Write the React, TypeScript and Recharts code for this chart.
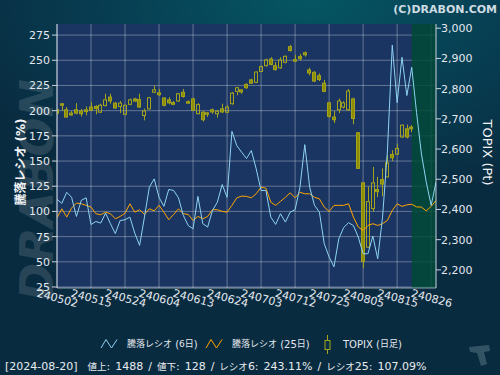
import React from 'react';
import { ComposedChart, Line, Bar, XAxis, YAxis, CartesianGrid, ReferenceArea, Legend } from 'recharts';

const tickLabels = ['240502', '240515', '240524', '240604', '240613', '240624', '240703', '240712', '240725', '240805', '240815', '240826'];
const tickIndex = [0, 7, 14, 21, 28, 35, 42, 49, 56, 63, 70, 77];

const ratio6 = [112, 108, 119, 114, 95, 111, 113.5, 87, 90, 88.4, 98.3, 87.8, 78, 91, 91.7, 94.4, 78.5, 66.3, 94.4, 124, 132.3, 114, 105, 121.8, 120.8, 113.5, 96, 86, 82.8, 114.9, 87.8, 84.5, 101, 109.2, 126.7, 114, 179.5, 165.3, 158.7, 152.5, 160.4, 142.2, 120.8, 120.8, 94.4, 87.1, 97.7, 89.4, 99.3, 101.7, 124, 166.3, 124, 106, 99.3, 68, 54.8, 45, 72.9, 84, 88.8, 86, 74.6, 58, 58, 75.6, 53, 94.4, 160, 265, 208, 253, 215, 243.11, 198, 157, 129, 106, 129];
const ratio25 = [93.7, 102.6, 94.4, 103.3, 108.3, 107.6, 106, 104.3, 97.7, 96.7, 99.3, 97.7, 92.7, 95, 98.3, 107.6, 99.3, 101.7, 97, 102.6, 100.6, 106, 99.3, 91.7, 97, 102.6, 97.7, 97, 91, 95, 92.7, 95, 101.7, 101.7, 100, 99.3, 106, 113.5, 115.2, 114.9, 113.5, 117.5, 124, 123, 109.2, 106, 110, 114, 118.5, 113.5, 119, 117.5, 117.5, 114, 112.5, 104.3, 100, 106, 106, 106, 107.6, 94.4, 84.5, 81.2, 86.1, 87.8, 86.1, 87.8, 91.1, 101, 107.5, 105, 106.5, 107.09, 104.5, 104.3, 100.5, 105, 110.8];

const topixOpen = [2730, 2750, 2730, 2719, 2730, 2726, 2730, 2739, 2741, 2722, 2744, 2772, 2752, 2741, 2715, 2748, 2766, 2764, 2711, 2733, 2788, 2786, 2769, 2763, 2754, 2759, 2788, 2757, 2766, 2717, 2722, 2720, 2730, 2717, 2733, 2722, 2750, 2791, 2796, 2814, 2829, 2821, 2857, 2876, 2898, 2876, 2869, 2887, 2939, 2896, 2906, 2919, 2862, 2854, 2843, 2818, 2753, 2706, 2730, 2739, 2730, 2766, 2654, 2488, 2275, 2403, 2466, 2499, 2508, 2582, 2583, 2640, 2667, 2673];
const topixHigh = [2734, 2752, 2739, 2726, 2752, 2733, 2741, 2755, 2745, 2750, 2783, 2783, 2756, 2759, 2747, 2767, 2770, 2783, 2734, 2772, 2810, 2799, 2772, 2772, 2759, 2785, 2799, 2761, 2770, 2752, 2726, 2722, 2734, 2730, 2750, 2745, 2789, 2805, 2798, 2818, 2833, 2857, 2876, 2899, 2904, 2888, 2904, 2910, 2945, 2911, 2915, 2923, 2869, 2858, 2851, 2829, 2756, 2726, 2767, 2758, 2799, 2770, 2656, 2490, 2476, 2541, 2508, 2536, 2580, 2596, 2618, 2681, 2681, 2679];
const topixLow = [2715, 2726, 2704, 2710, 2715, 2708, 2712, 2726, 2715, 2719, 2741, 2750, 2734, 2719, 2712, 2745, 2756, 2737, 2695, 2731, 2785, 2775, 2741, 2748, 2745, 2756, 2770, 2750, 2726, 2715, 2691, 2706, 2717, 2704, 2719, 2719, 2747, 2778, 2783, 2799, 2816, 2819, 2855, 2873, 2877, 2860, 2866, 2884, 2923, 2888, 2893, 2906, 2844, 2822, 2825, 2788, 2704, 2686, 2719, 2734, 2726, 2682, 2534, 2206, 2272, 2393, 2441, 2444, 2506, 2560, 2580, 2638, 2635, 2656];
const topixClose = [2719, 2745, 2706, 2713, 2719, 2717, 2724, 2728, 2734, 2745, 2763, 2759, 2736, 2752, 2745, 2763, 2759, 2739, 2726, 2770, 2796, 2780, 2745, 2753, 2748, 2783, 2774, 2752, 2728, 2747, 2697, 2715, 2723, 2725, 2723, 2739, 2785, 2803, 2789, 2803, 2818, 2855, 2873, 2895, 2880, 2863, 2895, 2907, 2926, 2891, 2899, 2912, 2852, 2825, 2830, 2791, 2708, 2697, 2759, 2753, 2792, 2701, 2536, 2228, 2426, 2488, 2459, 2484, 2554, 2571, 2602, 2679, 2640, 2667];

const leftTicks = [25, 50, 75, 100, 125, 150, 175, 200, 225, 250, 275];
const rightTicks = [2200, 2300, 2400, 2500, 2600, 2700, 2800, 2900, 3000];
const highlightStart = 73;
const lastIndex = ratio6.length - 1;

const data = ratio6.map((v, i) => {
  const has = i < topixOpen.length;
  return {
    i,
    r6: v,
    r25: ratio25[i],
    open: has ? topixOpen[i] : null,
    high: has ? topixHigh[i] : null,
    low: has ? topixLow[i] : null,
    close: has ? topixClose[i] : null,
    range: has ? [topixLow[i], topixHigh[i]] : null,
  };
});

const FONT = "'DejaVu Sans', 'Noto Sans CJK JP', sans-serif";
const CANDLE = '#a3a31c';
const CANDLE_FILL = '#8e8e06';
const BLUE = '#8dd3f2';
const ORANGE = '#ffa500';
const TICK = '#e4e8ee';

const Candle = (props: any) => {
  const { x, y, width, height, payload } = props;
  if (!payload || payload.open == null || x == null) return null;
  const { open, close, high, low } = payload;
  const top = Math.min(y, y + height);
  const h = Math.abs(height);
  const span = high - low;
  const toY = (v: number) => (span === 0 ? top : top + ((high - v) / span) * h);
  const cx = Math.round(x + width / 2) + 0.5;
  const bTop = toY(Math.max(open, close));
  const bBot = toY(Math.min(open, close));
  const up = close >= open;
  return (
    <g>
      <line x1={cx} x2={cx} y1={top} y2={bTop} stroke={CANDLE} strokeWidth={1} />
      <line x1={cx} x2={cx} y1={bBot} y2={top + h} stroke={CANDLE} strokeWidth={1} />
      <rect x={cx - 2} y={bTop} width={3} height={Math.max(1, bBot - bTop)} fill={up ? 'none' : CANDLE_FILL} stroke={CANDLE} strokeWidth={1} />
    </g>
  );
};

const XTick = (props: any) => {
  const { x, y, payload } = props;
  const idx = tickIndex.indexOf(payload.value);
  const label = idx >= 0 ? tickLabels[idx] : '';
  const cx = x + 0.5;
  const cy = y + 10.5;
  return (
    <text x={cx} y={cy} textAnchor="middle" dominantBaseline="central" fill={TICK} fontSize={11} fontFamily={FONT} transform={`rotate(15 ${cx} ${cy})`}>
      {label}
    </text>
  );
};

const LeftTitle = (props: any) => {
  const vb = props.viewBox || { x: 0, y: 24, width: 57, height: 264 };
  const x = vb.x + 20.5;
  const y = vb.y + vb.height / 2 + 6;
  return (
    <text x={x} y={y} transform={`rotate(-90 ${x} ${y})`} textAnchor="middle" dominantBaseline="central" fill="#f2f4f6" fontSize={12} fontWeight="bold" fontFamily={FONT}>
      騰落レシオ (%)
    </text>
  );
};

const RightTitle = (props: any) => {
  const vb = props.viewBox || { x: 436, y: 24, width: 64, height: 264 };
  const x = vb.x + 51;
  const y = vb.y + vb.height / 2 - 3.5;
  return (
    <text x={x} y={y} transform={`rotate(90 ${x} ${y})`} textAnchor="middle" dominantBaseline="central" fill="#f2f4f6" fontSize={13} fontFamily={FONT}>
      TOPIX (Pt)
    </text>
  );
};

const cjk = (s: string) => <tspan fontSize={9}>{s}</tspan>;

const LegendContent = () => (
  <svg width={500} height={30} style={{ display: 'block' }}>
    <polyline points="101,18 106,9.5 111.5,18 117,9.5" fill="none" stroke={BLUE} strokeWidth={1} />
    <text x={127} y={14} dominantBaseline="central" fill={TICK} fontSize={10} fontFamily={FONT}>
      {cjk('騰落レシオ')} ({cjk('6日')})
    </text>
    <polyline points="206,18 211,9.5 216.5,18 222,9.5" fill="none" stroke={ORANGE} strokeWidth={1} />
    <text x={232} y={14} dominantBaseline="central" fill={TICK} fontSize={10} fontFamily={FONT}>
      {cjk('騰落レシオ')} (25{cjk('日')})
    </text>
    <line x1={327.5} x2={327.5} y1={5} y2={24} stroke={CANDLE} strokeWidth={1} />
    <rect x={325} y={10.5} width={5} height={9} fill="#0a3045" stroke={CANDLE} strokeWidth={1} />
    <text x={343} y={14} dominantBaseline="central" fill={TICK} fontSize={10} fontFamily={FONT}>
      TOPIX ({cjk('日足')})
    </text>
  </svg>
);

export default function App() {
  return (
    <div
      style={{
        position: 'absolute',
        left: 0,
        top: 0,
        width: 500,
        height: 375,
        overflow: 'hidden',
        fontFamily: FONT,
        background: 'radial-gradient(ellipse 75% 55% at 62% 0%, #055663 0%, #073f53 50%, #092b40 100%)',
      }}
    >
      <svg width={500} height={375} style={{ position: 'absolute', left: 0, top: 0 }}>
        <text x={53} y={190} transform="rotate(-90 53 190)" textAnchor="middle" fontSize={46} fontWeight="bold" fontStyle="italic" fill="#ffffff" fillOpacity={0.13} fontFamily={FONT}>
          DRABON
        </text>
        <text x={497} y={13} textAnchor="end" fontSize={11} fontWeight="bold" fill="#cfdce2" fontFamily={FONT}>
          (C)DRABON.COM
        </text>
        <path d="M469,347 L489,345 L490,351 L484,352 L487,364 L481,366 L477,353 L470,352 Z" fill="#4d6e7c" fillOpacity={0.6} />
      </svg>
      <div style={{ position: 'absolute', left: 0, top: 0 }}>
        <ComposedChart width={500} height={375} data={data} margin={{ top: 24, right: 0, left: 0, bottom: 57 }}>
          <CartesianGrid yAxisId="left" stroke="rgba(255,255,255,0.32)" fill="#1b3562" fillOpacity={1} horizontalValues={leftTicks} verticalValues={tickIndex} />
          <ReferenceArea yAxisId="left" x1={highlightStart} x2={lastIndex} y1={24} y2={286} fill="#004a34" fillOpacity={0.82} stroke="none" ifOverflow="hidden" />
          <XAxis
            dataKey="i"
            type="number"
            domain={[0, lastIndex]}
            ticks={tickIndex}
            interval={0}
            allowDataOverflow
            height={30}
            tickSize={0}
            tickMargin={0}
            tickLine={false}
            axisLine={{ stroke: 'rgba(255,255,255,0.55)' }}
            tick={<XTick />}
          />
          <YAxis
            yAxisId="left"
            orientation="left"
            width={57}
            domain={[24, 286]}
            ticks={leftTicks}
            interval={0}
            allowDataOverflow
            tickSize={5}
            tickMargin={2}
            tick={{ fill: TICK, fontSize: 11, fontFamily: FONT }}
            axisLine={{ stroke: '#c9d2de' }}
            tickLine={{ stroke: '#c9d2de' }}
            label={<LeftTitle />}
          />
          <YAxis
            yAxisId="right"
            orientation="right"
            width={64}
            domain={[2140, 3014]}
            ticks={rightTicks}
            interval={0}
            allowDataOverflow
            tickSize={5}
            tickMargin={0}
            tickFormatter={(v: number) => v.toLocaleString('en-US')}
            tick={{ fill: TICK, fontSize: 11, fontFamily: FONT }}
            axisLine={{ stroke: '#c9d2de' }}
            tickLine={{ stroke: '#c9d2de' }}
            label={<RightTitle />}
          />
          <Bar yAxisId="right" dataKey="range" barSize={5} shape={<Candle />} isAnimationActive={false} />
          <Line yAxisId="left" type="linear" dataKey="r25" stroke={ORANGE} strokeWidth={1} dot={false} activeDot={false} isAnimationActive={false} />
          <Line yAxisId="left" type="linear" dataKey="r6" stroke={BLUE} strokeWidth={1} dot={false} activeDot={false} isAnimationActive={false} />
          <Legend layout="horizontal" verticalAlign="middle" align="center" wrapperStyle={{ top: 330, left: 0, width: 500, height: 30 }} content={<LegendContent />} />
        </ComposedChart>
      </div>
      <div style={{ position: 'absolute', left: 5, top: 359, fontSize: 11, lineHeight: '15px', color: '#e8ebee', whiteSpace: 'nowrap', fontFamily: FONT, wordSpacing: 1.5 }}>
        [2024-08-20]&nbsp; <span style={{ fontSize: 9.5 }}>値上</span>: 1488 / <span style={{ fontSize: 9.5 }}>値下</span>: 128 / <span style={{ fontSize: 9.5 }}>レシオ</span>6: 243.11% / <span style={{ fontSize: 9.5 }}>レシオ</span>25: 107.09%
      </div>
    </div>
  );
}
